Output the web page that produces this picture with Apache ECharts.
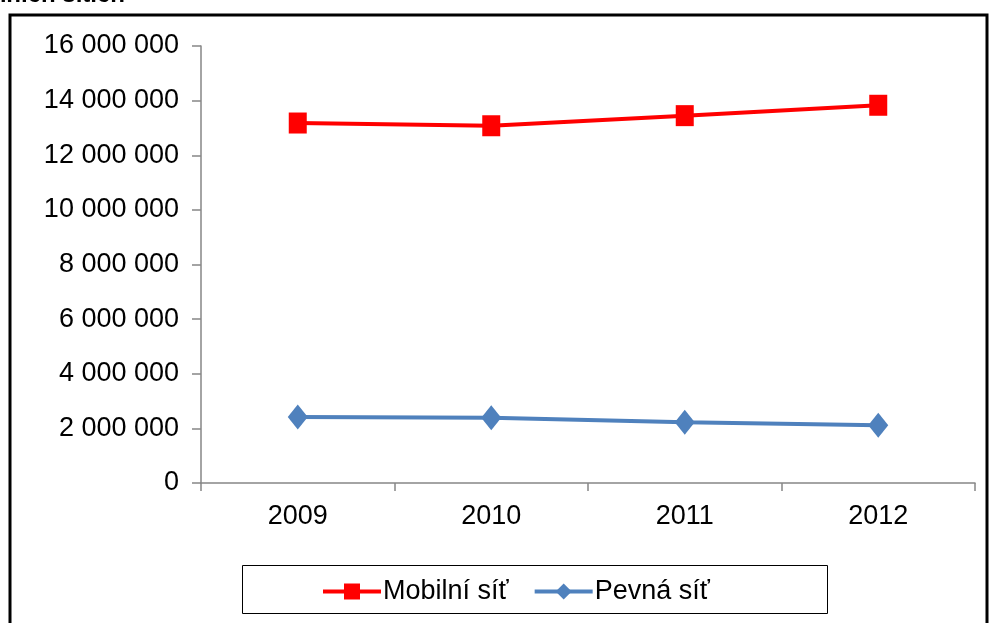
<!DOCTYPE html>
<html>
<head>
<meta charset="utf-8">
<script src="https://cdn.jsdelivr.net/npm/echarts@6/dist/echarts.min.js"></script>
<style>
html,body{margin:0;padding:0;background:#fff;}
#c{width:990px;height:623px;}
</style>
</head>
<body>
<div id="c"></div>
<script>
var years = ['2009', '2010', '2011', '2012'];
var mobilni = [13180000, 13080000, 13450000, 13830000];
var pevna = [2420000, 2390000, 2220000, 2110000];
var seriesNames = ['Mobilní síť', 'Pevná síť'];
var titleText = 'Počet aktivních účastníků v telefonních sítích';

var FONT = '"Liberation Sans", Arial, sans-serif';
var chart = echarts.init(document.getElementById('c'), null, {renderer: 'canvas'});

function fmt(v) {
  return String(v).replace(/\B(?=(\d{3})+(?!\d))/g, ' ');
}

chart.setOption({
  animation: false,
  backgroundColor: '#ffffff',
  grid: {left: 201, right: 15, top: 46, bottom: 140, containLabel: false},
  graphic: [
    {type: 'rect', shape: {x: 10, y: 15, width: 977, height: 700},
     style: {fill: 'none', stroke: '#000', lineWidth: 3}, silent: true},
    {type: 'rect', shape: {x: 242.5, y: 565.5, width: 585, height: 48},
     style: {fill: 'none', stroke: '#000', lineWidth: 1}, silent: true},
    {type: 'text', x: 125, y: 7,
     style: {text: titleText, font: 'bold 24px ' + FONT, fill: '#000',
             textAlign: 'right', textVerticalAlign: 'bottom'}}
  ],
  legend: {
    data: seriesNames,
    left: 321, top: 578,
    padding: 0,
    itemWidth: 58, itemHeight: 20, itemGap: 24,
    lineStyle: {width: 4},
    textStyle: {fontFamily: FONT, fontSize: 27, color: '#000', padding: [0, 0, 0, -3]}
  },
  xAxis: {
    type: 'category',
    data: years,
    boundaryGap: true,
    axisLine: {lineStyle: {color: '#868686', width: 1.5}},
    axisTick: {show: true, alignWithLabel: false, length: 8, lineStyle: {color: '#868686', width: 1.5}},
    axisLabel: {fontFamily: FONT, fontSize: 27, color: '#000', margin: 20},
    splitLine: {show: false}
  },
  yAxis: {
    type: 'value',
    min: 0, max: 16000000, interval: 2000000,
    axisLine: {show: true, lineStyle: {color: '#868686', width: 1.5}},
    axisTick: {show: true, inside: false, length: 9, lineStyle: {color: '#868686', width: 1.5}},
    axisLabel: {fontFamily: FONT, fontSize: 27, color: '#000', margin: 22, formatter: fmt},
    splitLine: {show: false}
  },
  series: [
    {
      name: seriesNames[0], type: 'line', data: mobilni,
      symbol: 'rect', symbolSize: [18, 21],
      lineStyle: {color: '#FF0000', width: 4},
      itemStyle: {color: '#FF0000'}
    },
    {
      name: seriesNames[1], type: 'line', data: pevna,
      symbol: 'diamond', symbolSize: [20, 25],
      lineStyle: {color: '#4F81BD', width: 4},
      itemStyle: {color: '#4F81BD'}
    }
  ]
});
</script>
</body>
</html>
